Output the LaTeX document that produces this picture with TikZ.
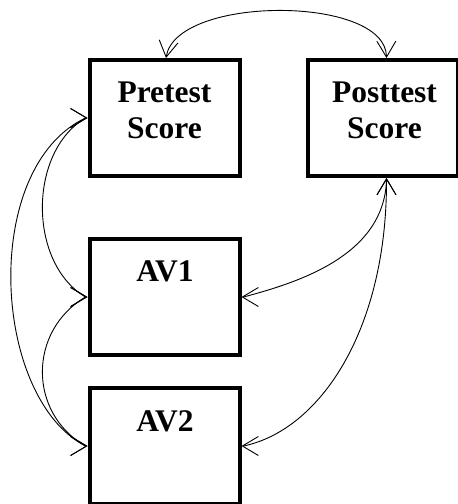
\documentclass[tikz,border=0pt]{standalone}
\usepackage{fontspec}
\setmainfont{Liberation Serif}
\usetikzlibrary{arrows.meta}
\begin{document}
\begin{tikzpicture}[x=1pt,y=-1pt,
  box/.style={draw=black,line width=4pt,rectangle,minimum width=150pt,minimum height=116pt,inner sep=0pt},
  lbl/.style={anchor=north,inner sep=0pt,align=center,font=\fontsize{31.5}{36}\selectfont\bfseries},
  arr/.style={line width=0.9pt,{Straight Barb[length=16pt,width=19pt]}-{Straight Barb[length=16pt,width=19pt]}}]
\useasboundingbox (0,0) rectangle (458,504);
\clip (0,0) rectangle (458,504);
\fill[white] (0,0) rectangle (458,504);
\node[box] (pre) at (164.5,118) {};
\node[box] (post) at (383,118) {};
\node[box] (av1) at (164.5,297) {};
\node[box] (av2) at (164.5,446) {};
\node[lbl] (pretxt) at (164.5,82) {Pretest\\Score};
\node[lbl] (posttxt) at (384.5,82) {Posttest\\Score};
\node[lbl] (av1txt) at (165,261) {AV1};
\node[lbl] (av2txt) at (165,410) {AV2};
\coordinate (pretop) at ([xshift=1.5pt]pre.north);
\coordinate (posttop) at ([xshift=3.5pt]post.north);
\coordinate (postbot) at ([xshift=3.5pt]post.south);
\draw[arr] (pretop) .. controls (176,-5) and (386,-5) .. (posttop);
% left side
\draw[arr] (pre.west) -- ++(-2,0) .. controls (28,152) and (28,263) .. ([xshift=-2pt]av1.west) -- (av1.west);
\draw[arr] (av1.west) -- ++(-2,0) .. controls (28,331) and (28,413) .. ([xshift=-2pt]av2.west) -- (av2.west);
\draw[arr] (pre.west) -- ++(-2,0) .. controls (-20,168) and (-8,398) .. ([xshift=-2pt]av2.west) -- (av2.west);
% right side
\draw[arr] (postbot) -- ++(0,2) .. controls (384,255) and (300,282) .. ([xshift=2pt]av1.east) -- (av1.east);
\draw[arr] (postbot) -- ++(0,2) .. controls (387,330) and (320,430) .. ([xshift=2pt]av2.east) -- (av2.east);
\end{tikzpicture}
\end{document}
